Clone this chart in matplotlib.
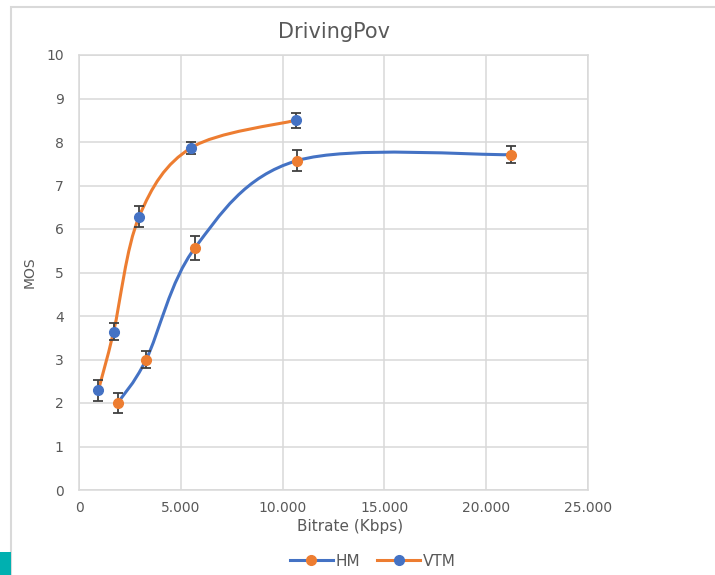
import numpy as np
import matplotlib
matplotlib.use("Agg")
import matplotlib.pyplot as plt
from matplotlib.path import Path
from matplotlib.patches import PathPatch, Rectangle
from matplotlib.lines import Line2D
from matplotlib.ticker import FuncFormatter, MultipleLocator

# data
hm_rate = [1900, 3300, 5700, 10700, 21200]
hm_mos = [2.0, 3.0, 5.57, 7.57, 7.71]
hm_err = [0.23, 0.2, 0.28, 0.24, 0.19]

vtm_rate = [950, 1700, 2950, 5520, 10640]
vtm_mos = [2.29, 3.64, 6.28, 7.87, 8.5]
vtm_err = [0.25, 0.2, 0.24, 0.14, 0.17]

BLUE = "#4472C4"
ORANGE = "#ED7D31"
TXT = "#595959"
GRID = "#D9D9D9"


def smooth_path(xs, ys):
	# excel style smoothed line: catmull-rom segments as cubic beziers
	pts = np.column_stack([xs, ys]).astype(float)
	n = len(pts)
	verts = [pts[0]]
	codes = [Path.MOVETO]
	for i in range(n - 1):
		p0 = pts[max(i - 1, 0)]
		p1 = pts[i]
		p2 = pts[i + 1]
		p3 = pts[min(i + 2, n - 1)]
		c1 = p1 + (p2 - p0) / 6.0
		c2 = p2 - (p3 - p1) / 6.0
		verts += [c1, c2, p2]
		codes += [Path.CURVE4] * 3
	return Path(verts, codes)


fig = plt.figure(figsize=(7.15, 5.75), dpi=100)
ax = fig.add_axes([79 / 715, 1 - 490 / 575, (588 - 79) / 715, (490 - 55) / 575])

for xs, ys, err, line_c, mark_c in [
	(hm_rate, hm_mos, hm_err, BLUE, ORANGE),
	(vtm_rate, vtm_mos, vtm_err, ORANGE, BLUE),
]:
	ax.add_patch(PathPatch(smooth_path(xs, ys), facecolor="none", edgecolor=line_c,
		lw=2.2, zorder=3, capstyle="round"))
	ax.errorbar(xs, ys, yerr=err, fmt="none", ecolor="#404040", elinewidth=1.3,
		capsize=3.5, capthick=1.3, zorder=4)
	ax.plot(xs, ys, "o", color=mark_c, ms=7, zorder=5)

ax.set_xlim(0, 25000)
ax.set_ylim(0, 10)
ax.xaxis.set_major_locator(MultipleLocator(5000))
ax.yaxis.set_major_locator(MultipleLocator(1))
ax.xaxis.set_major_formatter(FuncFormatter(lambda v, p: f"{v:,.0f}".replace(",", ".")))
ax.grid(True, color=GRID, lw=1.1)
ax.set_axisbelow(True)
for s in ax.spines.values():
	s.set_color(GRID)
	s.set_linewidth(1.1)
ax.tick_params(length=0, labelsize=10, labelcolor=TXT)
ax.tick_params(axis="y", pad=11)
ax.tick_params(axis="x", pad=8)

ax.set_title("DrivingPov", fontsize=15, color=TXT, pad=12)
ax.set_xlabel("Bitrate (Kbps)", fontsize=11, color=TXT)
ax.xaxis.set_label_coords((350 - 79) / 509, (490 - 519) / 435)
ax.set_ylabel("MOS", fontsize=10, color=TXT)
ax.yaxis.set_label_coords((37 - 79) / 509, 0.5)

handles = [
	Line2D([], [], color=BLUE, lw=2.2, marker="o", ms=7, mfc=ORANGE, mec=ORANGE),
	Line2D([], [], color=ORANGE, lw=2.2, marker="o", ms=7, mfc=BLUE, mec=BLUE),
]
leg = fig.legend(handles, ["HM", "VTM"], loc="center", bbox_to_anchor=(373 / 715, 1 - 561 / 575),
	ncol=2, frameon=False, fontsize=11, handlelength=2.8, handletextpad=0.2, columnspacing=1.1)
for t in leg.get_texts():
	t.set_color(TXT)

# outer chart frame and the teal tab in the corner
fig.patches.append(Rectangle((11 / 715, -0.1), 1.2, 1.1 - 7 / 575, transform=fig.transFigure,
	fill=False, edgecolor=GRID, lw=1.5))
fig.patches.append(Rectangle((0, 0), 11 / 715, 23 / 575, transform=fig.transFigure,
	facecolor="#00B0B0", edgecolor="none"))

fig.savefig("out.png", dpi=100)
